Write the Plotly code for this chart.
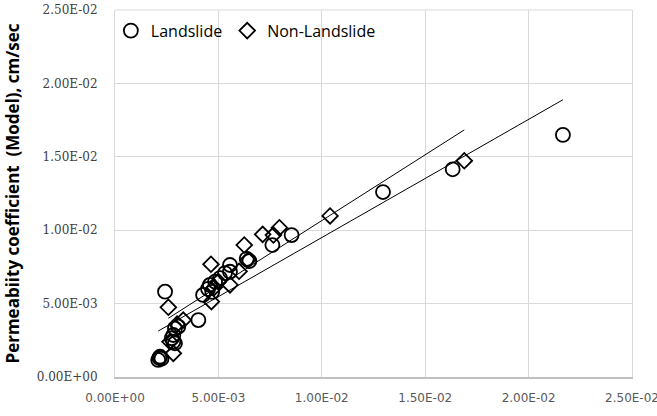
import numpy as np
import plotly.graph_objects as go

# Landslide samples (x: measured, y: model)
landslide_x = [0.02166, 0.01633, 0.01296, 0.00854, 0.00761, 0.00637, 0.00650, 0.00556,
               0.00556, 0.00532, 0.00508, 0.00484, 0.00459, 0.00450, 0.00426, 0.00470,
               0.00242, 0.00403, 0.00306, 0.00290, 0.00282, 0.00274, 0.00282, 0.00290,
               0.00218, 0.00209, 0.00225, 0.00215]
landslide_y = [0.01649, 0.01415, 0.01260, 0.00967, 0.00899, 0.00805, 0.00790, 0.00763,
               0.00717, 0.00708, 0.00674, 0.00649, 0.00627, 0.00600, 0.00559, 0.00580,
               0.00581, 0.00388, 0.00343, 0.00330, 0.00286, 0.00264, 0.00240, 0.00230,
               0.00138, 0.00116, 0.00125, 0.00130]

# Non-landslide samples
nonlandslide_x = [0.01689, 0.01040, 0.00795, 0.00766, 0.00714, 0.00625, 0.00643, 0.00464,
                  0.00556, 0.00466, 0.00258, 0.00330, 0.00300, 0.00266, 0.00282, 0.00500,
                  0.00480, 0.00600]
nonlandslide_y = [0.01473, 0.01097, 0.01017, 0.00967, 0.00972, 0.00899, 0.00797, 0.00768,
                  0.00627, 0.00513, 0.00475, 0.00388, 0.00360, 0.00240, 0.00161, 0.00650,
                  0.00610, 0.00720]

# Linear trendline coefficients (slope, intercept)
landslide_fit = (0.805, 0.00145)
nonlandslide_fit = (0.8965, 0.00169)

tick_vals = [0.0, 0.005, 0.01, 0.015, 0.02, 0.025]
tick_text = ["0.00E+00", "5.00E-03", "1.00E-02", "1.50E-02", "2.00E-02", "2.50E-02"]
axis_max = 0.02500001

fig = go.Figure()

fig.add_trace(go.Scatter(
    x=landslide_x, y=landslide_y, mode="markers", name="Landslide",
    marker=dict(symbol="circle-open", size=14, color="black", line=dict(width=1.8, color="black")),
))
fig.add_trace(go.Scatter(
    x=nonlandslide_x, y=nonlandslide_y, mode="markers", name="Non-Landslide",
    marker=dict(symbol="diamond-open", size=12, color="black", line=dict(width=1.8, color="black")),
))

for xs, (m, b) in [(landslide_x, landslide_fit), (nonlandslide_x, nonlandslide_fit)]:
    lx = np.array([min(xs), max(xs)])
    fig.add_trace(go.Scatter(
        x=lx, y=m * lx + b, mode="lines", showlegend=False,
        line=dict(color="black", width=1), hoverinfo="skip",
    ))

fig.update_layout(
    width=657, height=416,
    margin=dict(l=115, r=25, t=10, b=39, autoexpand=False),
    paper_bgcolor="white", plot_bgcolor="white",
    showlegend=True,
    legend=dict(
        orientation="h", x=-0.008, y=0.99, xanchor="left", yanchor="top",
        font=dict(family="Open Sans", size=16, color="black"),
        bgcolor="rgba(0,0,0,0)", itemwidth=30, tracegroupgap=0,
    ),
    shapes=[dict(type="line", xref="paper", yref="paper", x0=0, x1=1, y0=1, y1=1,
                 line=dict(color="#d9d9d9", width=1), layer="below")],
)

fig.update_xaxes(
    range=[0, axis_max], tickvals=tick_vals, ticktext=tick_text,
    showgrid=True, gridcolor="#d9d9d9", gridwidth=1,
    zeroline=False, showline=True, linecolor="#bfbfbf", linewidth=1.5,
    ticks="", ticklabelstandoff=9, ticklabeloverflow="allow",
    tickfont=dict(family="DejaVu Sans", size=12, color="#595959"),
    automargin=False, fixedrange=True,
)
fig.update_yaxes(
    range=[0, axis_max], tickvals=tick_vals, ticktext=tick_text,
    showgrid=True, gridcolor="#d9d9d9", gridwidth=1,
    zeroline=False, showline=True, linecolor="#d9d9d9", linewidth=1, mirror=True,
    ticks="", ticklabelstandoff=14,
    tickfont=dict(family="DejaVu Serif", size=12, color="#404040"),
    title=dict(text="<b>Permeabiity coefficient  (Model), cm/sec</b>",
               font=dict(family="Open Sans", size=17, color="black"), standoff=12),
    automargin=False, fixedrange=True,
)

fig.write_html("out.html")
